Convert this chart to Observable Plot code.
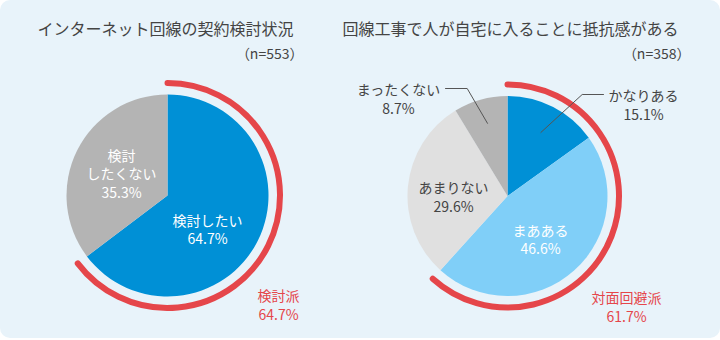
<!DOCTYPE html>
<html><head><meta charset="utf-8">
<script src="https://cdn.jsdelivr.net/npm/d3@7"></script>
<script src="https://cdn.jsdelivr.net/npm/@observablehq/plot@0.6"></script>
<style>
body{margin:0;background:#fff;font-family:"Noto Sans CJK JP","Noto Sans",sans-serif;}
#panel{width:720px;height:338px;background:#e8f3fa;border-radius:10px;overflow:hidden;}
</style></head><body><div id="panel"></div>
<script>
// ---- data ----
const leftTitle = "インターネット回線の契約検討状況";
const leftN = "（n=553）";
const leftCategories = ["検討したい", "検討したくない"];
const leftLabelNames = ["検討したい", "検討\nしたくない"];
const leftValues = [64.7, 35.3];
const leftGroupLabel = "検討派";
const leftGroupValue = 64.7;

const rightTitle = "回線工事で人が自宅に入ることに抵抗感がある";
const rightN = "（n=358）";
const rightCategories = ["かなりある", "まあある", "あまりない", "まったくない"];
const rightLabelNames = ["かなりある", "まあある", "あまりない", "まったくない"];
const rightValues = [15.1, 46.6, 29.6, 8.7];
const rightGroupLabel = "対面回避派";
const rightGroupValue = 61.7;

// ---- styles / layout ----
const leftColors = ["#0090d6", "#b4b4b4"];
const leftTextColors = ["#fff", "#fff"];
const rightColors = ["#0090d6", "#80cff8", "#e0e0e0", "#b4b4b4"];
const rightTextColors = ["#444", "#fff", "#444", "#444"];
const red = "#e5464a";
const textDark = "#444";

const W = 720, H = 338;
const pies = [
  {cx: 167.5, cy: 195.5, r: 101, cats: leftCategories, names: leftLabelNames, vals: leftValues, colors: leftColors, tcolors: leftTextColors,
   group: leftGroupLabel, gval: leftGroupValue,
   labelPos: [[207, 228.5], [121, 173]], groupPos: [278, 304],
   title: leftTitle, n: leftN, titleX: 37, titleRight: 303, leaders: [null, null]},
  {cx: 507.5, cy: 196, r: 100, cats: rightCategories, names: rightLabelNames, vals: rightValues, colors: rightColors, tcolors: rightTextColors,
   group: rightGroupLabel, gval: rightGroupValue,
   labelPos: [[643, 104], [540, 238.5], [453, 196], [398, 98]], groupPos: [626, 306],
   title: rightTitle, n: rightN, titleX: 342, titleRight: 690,
   leaders: [{rf: 0.72, bend: [581.7, 94], end: [603, 94]}, null, null, {rf: 0.76, bend: [466.7, 88], end: [445, 88]}]}
];

// build tables
const labelRows = [], leaderRows = [], titleRows = [], nRows = [], groupRows = [];
pies.forEach((p, pi) => {
  const arcs = d3.pie().sort(null).value(d => d)(p.vals);
  p.arcs = arcs;
  p.vals.forEach((v, i) => {
    labelRows.push({x: p.labelPos[i][0], y: p.labelPos[i][1], text: `${p.names[i]}\n${v.toFixed(1)}%`, fill: p.tcolors[i]});
    const L = p.leaders[i];
    if (L) {
      const a = (arcs[i].startAngle + arcs[i].endAngle) / 2;
      const sx = p.cx + Math.sin(a) * p.r * L.rf, sy = p.cy - Math.cos(a) * p.r * L.rf;
      leaderRows.push({x: sx, y: sy, k: pi + "-" + i}, {x: L.bend[0], y: L.bend[1], k: pi + "-" + i}, {x: L.end[0], y: L.end[1], k: pi + "-" + i});
    }
  });
  titleRows.push({x: p.titleX, y: 29, text: p.title});
  nRows.push({x: p.titleRight, y: 54, text: p.n});
  groupRows.push({x: p.groupPos[0], y: p.groupPos[1], text: `${p.group}\n${p.gval.toFixed(1)}%`});
});

function pieMark(index, scales, values, dimensions, context) {
  const g = d3.create("svg:g");
  const sx = scales.x || (v => v), sy = scales.y || (v => v);
  pies.forEach(p => {
    const cx = sx(p.cx), cy = sy(p.cy);
    const arc = d3.arc().innerRadius(0).outerRadius(p.r);
    g.append("g").attr("transform", `translate(${cx},${cy})`)
      .selectAll("path").data(p.arcs).join("path")
      .attr("d", arc).attr("fill", (d, i) => p.colors[i]);
    const path = d3.path();
    const R = p.r + 11.5;
    path.arc(cx, cy, R, -Math.PI / 2, -Math.PI / 2 + p.gval / 100 * 2 * Math.PI, false);
    g.append("path").attr("d", path.toString()).attr("fill", "none")
      .attr("stroke", red).attr("stroke-width", 6).attr("stroke-linecap", "round");
  });
  return g.node();
}

const font = `"Noto Sans CJK JP","Noto Sans",sans-serif`;
const chart = Plot.plot({
  width: W, height: H,
  margin: 0,
  x: {domain: [0, W], range: [0, W], axis: null},
  y: {domain: [0, H], range: [0, H], axis: null},
  style: {background: "transparent", fontFamily: font},
  marks: [
    pieMark,
    Plot.line(leaderRows, {x: "x", y: "y", z: "k", stroke: "#555", strokeWidth: 1}),
    Plot.text(labelRows, {x: "x", y: "y", text: "text", fill: "fill", fontSize: 14, lineHeight: 1.33, fontFamily: font}),
    Plot.text(groupRows, {x: "x", y: "y", text: "text", fill: red, fontSize: 14, lineHeight: 1.33, fontFamily: font}),
    Plot.text(titleRows, {x: "x", y: "y", text: "text", fill: textDark, fontSize: 16, textAnchor: "start", fontFamily: font}),
    Plot.text(nRows, {x: "x", y: "y", text: "text", fill: textDark, fontSize: 14, textAnchor: "end", fontFamily: font})
  ]
});
document.getElementById("panel").appendChild(chart);
</script>
</body></html>
